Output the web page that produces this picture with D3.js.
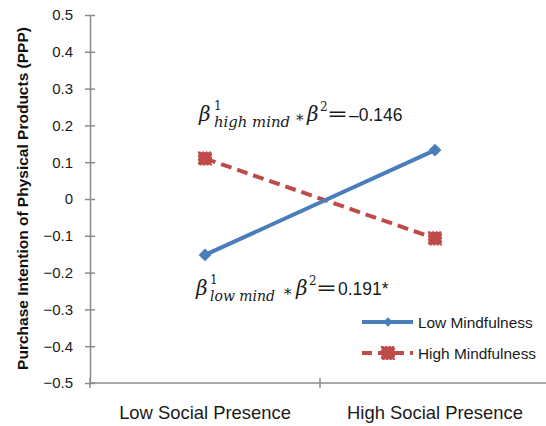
<!DOCTYPE html>
<html><head><meta charset="utf-8">
<script src="https://cdn.jsdelivr.net/npm/d3@7"></script>
<style>body{margin:0;background:#fff}svg{display:block}</style>
</head><body>
<svg id="c" width="546" height="426"></svg>
<script>
const categories = ["Low Social Presence", "High Social Presence"];
const lowMindfulness = [-0.152, 0.133];
const highMindfulness = [0.110, -0.107];
const seriesNames = ["Low Mindfulness", "High Mindfulness"];
const yTicks = [0.5,0.4,0.3,0.2,0.1,0,-0.1,-0.2,-0.3,-0.4,-0.5];
const yTitle = "Purchase Intention of Physical Products (PPP)";

const svg = d3.select("#c");
const x0 = 90, x1 = 550, yTop = 15, yBot = 383;
const x = d3.scaleBand().domain(categories).range([x0, x1]).paddingInner(0).paddingOuter(0);
const y = d3.scaleLinear().domain([-0.5, 0.5]).range([yBot, yTop]);
const axisColor = "#8c8c8c";
const sans = "Liberation Sans, Arial, sans-serif";
const fmt = d => d === 0 ? "0" : (d < 0 ? "\u2212" + Math.abs(d).toFixed(1) : d.toFixed(1));

// Y axis
const ya = svg.append("g").attr("transform", `translate(${x0},0)`)
  .call(d3.axisLeft(y).tickValues(yTicks).tickFormat(fmt).tickSize(5).tickSizeOuter(0));
ya.select(".domain").attr("stroke", axisColor).attr("stroke-width", 1.5);
ya.selectAll(".tick line").attr("stroke", axisColor).attr("stroke-width", 1.5).attr("x2", 5).attr("x1", -5);
ya.selectAll(".tick text").attr("x", -17).attr("fill", "#1a1a1a")
  .style("font-family", sans).style("font-size", "15px");

// X axis
const xa = svg.append("g").attr("transform", `translate(0,${yBot})`);
xa.append("line").attr("x1", x0).attr("x2", 546).attr("y1", 0).attr("y2", 0)
  .attr("stroke", axisColor).attr("stroke-width", 1.5);
const bounds = [x0, x(categories[1])];
xa.selectAll("line.tk").data(bounds).join("line").attr("class", "tk")
  .attr("x1", d => d).attr("x2", d => d).attr("y1", -5).attr("y2", 5)
  .attr("stroke", axisColor).attr("stroke-width", 1.5);
xa.selectAll("text").data(categories).join("text")
  .attr("x", d => x(d) + x.bandwidth() / 2).attr("y", 36)
  .attr("text-anchor", "middle").attr("fill", "#1a1a1a")
  .style("font-family", sans).style("font-size", "18.4px")
  .text(d => d);

// Y title (fit to 343px)
const yt = svg.append("text").attr("transform", `translate(28,${(27 + 370) / 2}) rotate(-90)`)
  .attr("text-anchor", "middle").attr("fill", "#111")
  .style("font-family", sans).style("font-size", "14px").style("font-weight", "bold")
  .text(yTitle);
const L = yt.node().getComputedTextLength();
yt.style("font-size", (14 * 343 / L).toFixed(2) + "px");

const cx = d => x(d) + x.bandwidth() / 2;
const line = d3.line().x(d => cx(d.c)).y(d => y(d.v));
const blue = "#4a7ebb", red = "#be4b48";

const lowData = categories.map((c, i) => ({c, v: lowMindfulness[i]}));
const highData = categories.map((c, i) => ({c, v: highMindfulness[i]}));

svg.append("path").datum(highData).attr("d", line).attr("fill", "none")
  .attr("stroke", red).attr("stroke-width", 4).attr("stroke-dasharray", "11,6");
svg.append("path").datum(lowData).attr("d", line).attr("fill", "none")
  .attr("stroke", blue).attr("stroke-width", 4);

const sq = d3.symbol().type(d3.symbolSquare).size(160);
const dia = d3.symbol().type(d3.symbolSquare).size(82);
svg.selectAll("path.hm").data(highData).join("path").attr("class", "hm")
  .attr("d", sq).attr("transform", d => `translate(${cx(d.c)},${y(d.v)})`)
  .attr("fill", red).attr("stroke", red).attr("stroke-width", 1.5).attr("stroke-dasharray", "2,1.5");
svg.selectAll("path.lm").data(lowData).join("path").attr("class", "lm")
  .attr("d", dia).attr("transform", d => `translate(${cx(d.c)},${y(d.v)}) rotate(45)`)
  .attr("fill", blue);

// Legend
const lg = svg.append("g");
const legY = [322, 353];
lg.append("line").attr("x1", 362).attr("x2", 413).attr("y1", legY[0]).attr("y2", legY[0])
  .attr("stroke", blue).attr("stroke-width", 4);
lg.append("path").attr("d", d3.symbol().type(d3.symbolSquare).size(45))
  .attr("transform", `translate(388,${legY[0]}) rotate(45)`).attr("fill", blue);
lg.append("line").attr("x1", 362).attr("x2", 413).attr("y1", legY[1]).attr("y2", legY[1])
  .attr("stroke", red).attr("stroke-width", 4).attr("stroke-dasharray", "10,6");
lg.append("path").attr("d", sq).attr("transform", `translate(388,${legY[1]})`)
  .attr("fill", red).attr("stroke", red).attr("stroke-width", 1.5).attr("stroke-dasharray", "2,1.5");
lg.selectAll("text").data(seriesNames).join("text")
  .attr("x", 418).attr("y", (d, i) => legY[i] + 6).attr("fill", "#1a1a1a")
  .style("font-family", sans).style("font-size", "15.4px")
  .text(d => d);

// Annotations
function annot(p) {
  const g = svg.append("g").attr("fill", "#1a1a1a");
  const serif = "DejaVu Serif, Liberation Serif, serif";
  const by = p.by;
  g.append("text").attr("x", p.b1).attr("y", by).style("font-family", serif).style("font-style", "italic")
    .style("font-size", "20px").text("\u03B2");
  g.append("text").attr("x", p.sup1).attr("y", by - 11).style("font-family", serif)
    .style("font-size", "12px").text("1");
  g.append("text").attr("x", p.sub).attr("y", by + 6).style("font-family", serif).style("font-style", "italic")
    .style("font-size", "14px").attr("textLength", p.subW).attr("lengthAdjust", "spacingAndGlyphs").text(p.subText);
  g.append("text").attr("x", p.star).attr("y", by + 4).style("font-family", serif)
    .style("font-size", "15px").text("*");
  g.append("text").attr("x", p.b2).attr("y", by).style("font-family", serif).style("font-style", "italic")
    .style("font-size", "20px").text("\u03B2");
  g.append("text").attr("x", p.sup2).attr("y", by - 10).style("font-family", serif)
    .style("font-size", "12px").text("2");
  g.append("text").attr("x", p.eq).attr("y", by).style("font-family", serif)
    .style("font-size", "21px").attr("textLength", 21).attr("lengthAdjust", "spacingAndGlyphs").text("=");
  g.append("text").attr("x", p.val).attr("y", by).style("font-family", sans)
    .style("font-size", "17.5px").text(p.valText);
}
annot({by: 121, b1: 199, sup1: 214, sub: 214, subW: 76, subText: "high mind", star: 296, b2: 307, sup2: 320, eq: 327, val: 349, valText: "\u20130.146"});
annot({by: 295, b1: 196, sup1: 210, sub: 210, subW: 65, subText: "low mind", star: 284, b2: 296, sup2: 309, eq: 316, val: 338, valText: "0.191*"});
</script>
</body></html>
